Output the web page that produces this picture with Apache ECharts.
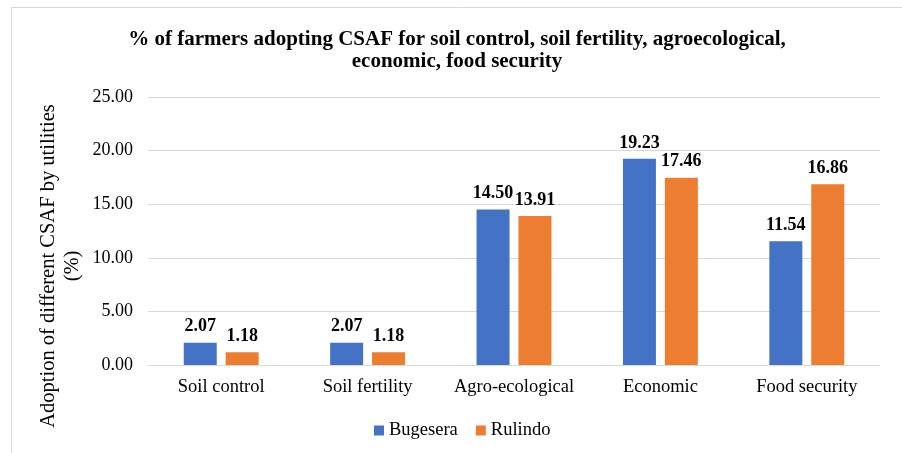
<!DOCTYPE html>
<html>
<head>
<meta charset="utf-8">
<script src="https://cdn.jsdelivr.net/npm/echarts@6/dist/echarts.min.js"></script>
<style>
  html, body { margin: 0; padding: 0; background: #fff; }
  #chart { width: 902px; height: 453px; }
</style>
</head>
<body>
<div id="chart"></div>
<script>
// Utility categories and adoption rates (%) per district
const categories = ['Soil control', 'Soil fertility', 'Agro-ecological', 'Economic', 'Food security'];
const bugesera = [2.07, 2.07, 14.50, 19.23, 11.54];
const rulindo = [1.18, 1.18, 13.91, 17.46, 16.86];
const yTicks = { min: 0, max: 25, interval: 5 };

const serif = '"Liberation Serif", "Times New Roman", serif';

const chart = echarts.init(document.getElementById('chart'));

const valueLabel = {
  show: true,
  position: 'top',
  distance: 7,
  fontFamily: serif,
  fontSize: 18,
  fontWeight: 'bold',
  color: '#000',
  formatter: p => p.value.toFixed(2)
};

chart.setOption({
  backgroundColor: '#fff',
  animation: false,
  title: {
    text: '% of farmers adopting CSAF for soil control, soil fertility, agroecological,\neconomic, food security',
    left: 452,
    top: 24,
    textAlign: 'center',
    textStyle: {
      fontFamily: serif,
      fontSize: 21,
      fontWeight: 'bold',
      color: '#000',
      lineHeight: 22
    }
  },
  graphic: [
    {
      // chart frame: left and top edges
      type: 'polyline',
      shape: { points: [[11.5, 470], [11.5, 7.5], [910, 7.5]] },
      style: { fill: 'none', stroke: '#D9D9D9', lineWidth: 1 },
      silent: true
    },
    {
      type: 'text',
      x: 61,
      y: 266,
      rotation: Math.PI / 2,
      style: {
        text: 'Adoption of different CSAF by utilities\n(%)',
        fontFamily: serif,
        fontSize: 20.5,
        fill: '#000',
        align: 'center',
        verticalAlign: 'middle',
        lineHeight: 24
      }
    }
  ],
  legend: {
    data: ['Bugesera', 'Rulindo'],
    top: 416,
    left: 369,
    itemWidth: 10,
    itemHeight: 10,
    itemGap: 18,
    icon: 'rect',
    textStyle: { fontFamily: serif, fontSize: 18.5, color: '#000' }
  },
  grid: { left: 148, right: 22, top: 97, bottom: 88 },
  xAxis: {
    type: 'category',
    data: categories,
    axisTick: { show: false },
    axisLine: { lineStyle: { color: '#D9D9D9', width: 1 } },
    axisLabel: { interval: 0, fontFamily: serif, fontSize: 18.5, color: '#000', margin: 13 }
  },
  yAxis: {
    type: 'value',
    min: yTicks.min,
    max: yTicks.max,
    interval: yTicks.interval,
    axisLine: { show: false },
    axisTick: { show: false },
    splitLine: { lineStyle: { color: '#D9D9D9', width: 1 } },
    axisLabel: {
      fontFamily: serif, fontSize: 18, color: '#000', margin: 15,
      formatter: v => v.toFixed(2)
    }
  },
  series: [
    {
      name: 'Bugesera',
      type: 'bar',
      data: bugesera,
      barWidth: 33,
      barGap: '27%',
      itemStyle: { color: '#4472C4' },
      label: valueLabel
    },
    {
      name: 'Rulindo',
      type: 'bar',
      data: rulindo,
      barWidth: 33,
      itemStyle: { color: '#ED7D31' },
      label: valueLabel
    }
  ]
});
</script>
</body>
</html>
